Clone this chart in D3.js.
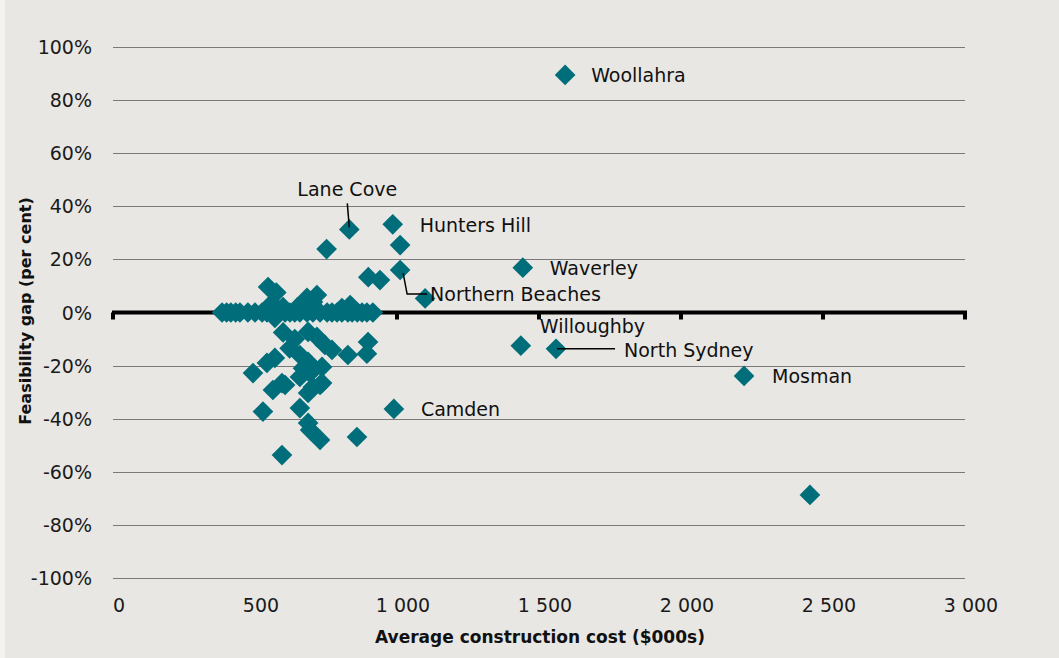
<!DOCTYPE html>
<html>
<head>
<meta charset="utf-8">
<script src="https://cdn.jsdelivr.net/npm/d3@7"></script>
<style>
  body { margin: 0; background: #e8e7e3; }
  svg { display: block; }
</style>
</head>
<body>
<div class="chart"></div>
<script>
"use strict";

// councils with a label
var councils = ["Woollahra", "Lane Cove", "Hunters Hill", "Northern Beaches", "Waverley",
                "Willoughby", "North Sydney", "Mosman", "Camden"];
var councilCost = [1592, 832, 985, 1011, 1443, 1436, 1560, 2222, 989];
var councilGap  = [89.5, 31.3, 33.2, 16.0, 16.9, -12.5, -13.7, -23.9, -36.3];

// other councils (cost $000s, gap %)
var otherCost = [1011, 752, 899, 940, 1099, 2454,
  546, 575, 683, 718, 704, 835, 806, 650, 560, 599,
  384, 400, 415, 432, 447, 475, 500, 525, 542, 563, 581, 606, 623, 640,
  658, 683, 704, 729, 754, 771, 789, 806, 827, 842, 860, 877, 894, 915,
  570, 599, 687, 718, 746, 771, 827, 898, 894, 658, 570, 687, 542, 493,
  595, 563, 694, 736, 704, 658, 736, 528, 658, 687, 694, 729, 859, 595,
  606, 669, 729, 687, 622, 640];
var otherGap = [25.4, 23.9, 13.3, 12.2, 5.3, -68.7,
  9.6, 7.5, 5.5, 6.6, 4.0, 2.8, 1.7, 2.0, 3.5, 2.0,
  0, 0, 0, 0, 0, 0, 0, 0, 0, 0, 0, 0, 0, 0,
  0, 0, 0, 0, 0, 0, 0, 0, 0, 0, 0, 0, 0, 0,
  -2.0, -7.5, -7.3, -9.2, -12.2, -14.1, -16.0, -11.1, -15.5, -16.0, -17.1, -18.6, -19.0, -22.8,
  -26.6, -29.2, -22.8, -20.5, -28.1, -24.3, -26.6, -37.3, -36.0, -41.6, -44.3, -48.0, -46.9, -53.7,
  -27.3, -21.0, -27.3, -30.3, -13.5, -10.0];

var xTicks = [0, 500, 1000, 1500, 2000, 2500, 3000];
var yTicks = [-100, -80, -60, -40, -20, 0, 20, 40, 60, 80, 100];

var larg = 1059, haut = 658;
var teal = "#006e7a";
var police = "DejaVu Sans, sans-serif";

// where each label sits relative to its point
var labelPos = {
  "Woollahra":        { dx: 26, dy: 7 },
  "Lane Cove":        { dx: -2, dy: -33, anchor: "middle", lead: [[-2, -26], [0, -2]] },
  "Hunters Hill":     { dx: 27, dy: 8 },
  "Northern Beaches": { dx: 30, dy: 31, lead: [[3, 3], [7, 24], [27, 24]] },
  "Waverley":         { dx: 27, dy: 7 },
  "Willoughby":       { dx: 19, dy: -13 },
  "North Sydney":     { dx: 68, dy: 8, lead: [[1, 0], [59, 0]] },
  "Mosman":           { dx: 28, dy: 7 },
  "Camden":           { dx: 27, dy: 7 }
};

var x = d3.scaleLinear().domain([0, 3000]).range([113, 965]);
var y = d3.scaleLinear().domain([-100, 100]).range([578, 47]);

var svg = d3.select(".chart").append("svg")
  .attr("width", larg)
  .attr("height", haut);

svg.append("rect").attr("width", larg).attr("height", haut).attr("fill", "#e8e7e3");
svg.append("rect").attr("width", 5).attr("height", haut).attr("fill", "#f3f3f1");

// gridlines
svg.selectAll("line.grille")
  .data(yTicks.filter(function(d){ return d != 0; }))
  .enter().append("line")
  .attr("class", "grille")
  .attr("x1", x(0)).attr("x2", x(3000))
  .attr("y1", function(d){ return Math.round(y(d)) + 0.5; })
  .attr("y2", function(d){ return Math.round(y(d)) + 0.5; })
  .attr("stroke", "#7a7a7a")
  .attr("stroke-width", 1);

// y labels
svg.selectAll("text.ylab")
  .data(yTicks)
  .enter().append("text")
  .attr("class", "ylab")
  .attr("x", 92)
  .attr("y", function(d){ return y(d) + 7; })
  .attr("text-anchor", "end")
  .attr("font-family", police)
  .attr("font-size", "19px")
  .attr("fill", "#1a1a1a")
  .text(function(d){ return d + "%"; });

// zero line + tick marks
svg.append("line")
  .attr("x1", x(0) - 1).attr("x2", x(3000) + 2)
  .attr("y1", y(0)).attr("y2", y(0))
  .attr("stroke", "#000").attr("stroke-width", 4);

svg.selectAll("rect.tick")
  .data(xTicks)
  .enter().append("rect")
  .attr("class", "tick")
  .attr("x", function(d){ return x(d) - 2; })
  .attr("y", y(0))
  .attr("width", 4)
  .attr("height", 7)
  .attr("fill", "#000");

// x labels
svg.selectAll("text.xlab")
  .data(xTicks)
  .enter().append("text")
  .attr("class", "xlab")
  .attr("x", function(d){ return x(d) + 6; })
  .attr("y", 612)
  .attr("text-anchor", "middle")
  .attr("font-family", police)
  .attr("font-size", "19px")
  .attr("fill", "#1a1a1a")
  .text(function(d){ return d3.format(",")(d).replace(",", " "); });

// axis titles
svg.append("text")
  .attr("x", 540).attr("y", 643)
  .attr("text-anchor", "middle")
  .attr("font-family", police)
  .attr("font-size", "17px")
  .attr("font-weight", "bold")
  .attr("fill", "#111")
  .text("Average construction cost ($000s)");

svg.append("text")
  .attr("transform", "translate(31," + 311 + ") rotate(-90)")
  .attr("text-anchor", "middle")
  .attr("font-family", police)
  .attr("font-size", "16px")
  .attr("font-weight", "bold")
  .attr("fill", "#111")
  .text("Feasibility gap (per cent)");

// points
var autres = otherCost.map(function(c, i){ return { cost: c, gap: otherGap[i] }; });
var nommes = councils.map(function(n, i){ return { name: n, cost: councilCost[i], gap: councilGap[i] }; });

var losange = d3.symbol().type(d3.symbolSquare).size(214);

svg.selectAll("path.pt")
  .data(autres.concat(nommes))
  .enter().append("path")
  .attr("class", "pt")
  .attr("d", losange)
  .attr("transform", function(d){ return "translate(" + x(d.cost) + "," + y(d.gap) + ") rotate(45)"; })
  .attr("fill", teal);

// leader lines
nommes.forEach(function(d){
  var p = labelPos[d.name];
  if (!p.lead) return;
  svg.append("path")
    .attr("d", d3.line()(p.lead.map(function(o){ return [x(d.cost) + o[0], y(d.gap) + o[1]]; })))
    .attr("fill", "none")
    .attr("stroke", "#000")
    .attr("stroke-width", 1.5);
});

// labels
svg.selectAll("text.nom")
  .data(nommes)
  .enter().append("text")
  .attr("class", "nom")
  .attr("x", function(d){ return x(d.cost) + labelPos[d.name].dx; })
  .attr("y", function(d){ return y(d.gap) + labelPos[d.name].dy; })
  .attr("text-anchor", function(d){ return labelPos[d.name].anchor || "start"; })
  .attr("font-family", police)
  .attr("font-size", "19px")
  .attr("fill", "#111")
  .text(function(d){ return d.name; });
</script>
</body>
</html>
